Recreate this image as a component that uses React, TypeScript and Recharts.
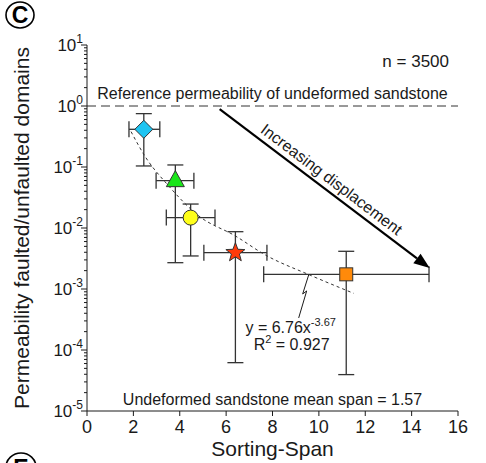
import React from 'react';
import { ComposedChart, Scatter, Line, XAxis, YAxis, ErrorBar, ReferenceLine, ReferenceDot } from 'recharts';

// sorting-span of each fault population (marker centre, left and right whisker)
const spanMid = [2.45, 3.81, 4.47, 6.4, 11.18];
const spanLow = [1.81, 2.98, 3.42, 5.04, 7.62];
const spanHigh = [3.14, 4.61, 5.52, 7.76, 14.75];

// permeability ratio faulted/unfaulted (marker centre, lower and upper whisker)
const permMid = [0.415, 0.0597, 0.0148, 0.00394, 0.00174];
const permLow = [0.104, 0.0027, 0.00348, 0.000062, 0.0000395];
const permHigh = [0.75, 0.108, 0.0247, 0.0087, 0.00415];

const markerKinds = ['diamond', 'triangle', 'circle', 'star', 'square'];
const markerColors = ['#1ec4f2', '#19e619', '#ffff1a', '#ff3a0a', '#ff8a0a'];

// dashed power-law fit
const fitSpan = [1.9, 2.5, 3.5, 4.8, 6.4, 7.7, 9.6, 11.5];
const fitPerm = [0.38, 0.15, 0.05, 0.016, 0.0074, 0.0036, 0.0017, 0.00085];

const xTicks = [0, 2, 4, 6, 8, 10, 12, 14, 16];
const decades = [-5, -4, -3, -2, -1, 0];

const yTicks: number[] = [];
decades.forEach((d) => {
  for (let k = 1; k <= 9; k++) yTicks.push(k * Math.pow(10, d));
});
yTicks.push(10);

const points = spanMid.map((x, i) => ({
  x,
  y: permMid[i],
  idx: i,
  ex: [x - spanLow[i], spanHigh[i] - x],
  ey: [permMid[i] - permLow[i], permHigh[i] - permMid[i]],
}));

const fitData = fitSpan.map((x, i) => ({ x, fit: fitPerm[i] }));

const FONT = '"Liberation Sans", Arial, sans-serif';
const INK = '#1a1a1a';

const YTick = (props: any) => {
  const { x, y, payload } = props;
  const v = payload.value;
  const e = Math.round(Math.log10(v));
  const major = Math.abs(v / Math.pow(10, e) - 1) < 1e-6;
  return (
    <g>
      <line x1={x - (major ? 6 : 3)} x2={x} y1={y} y2={y} stroke={INK} strokeWidth={1} />
      {major && (
        <text x={x - 4} y={y + 6} textAnchor="end" fontSize={17} fill={INK} fontFamily={FONT}>
          10
          <tspan fontSize={12} dy={-8}>{e}</tspan>
        </text>
      )}
    </g>
  );
};

const XTick = (props: any) => {
  const { x, y, payload } = props;
  return (
    <g>
      <line x1={x} x2={x} y1={y} y2={y + 5} stroke={INK} strokeWidth={1} />
      <text x={x} y={y + 22} textAnchor="middle" fontSize={18} fill={INK} fontFamily={FONT}>
        {payload.value}
      </text>
    </g>
  );
};

const Marker = (props: any) => {
  const { cx, cy, payload } = props;
  const kind = markerKinds[payload.idx];
  const fill = markerColors[payload.idx];
  const st = { fill, stroke: '#333', strokeWidth: 1 };
  if (kind === 'diamond') {
    return <polygon points={`${cx},${cy - 9} ${cx + 9},${cy} ${cx},${cy + 9} ${cx - 9},${cy}`} {...st} />;
  }
  if (kind === 'triangle') {
    return <polygon points={`${cx},${cy - 10} ${cx + 9},${cy + 6} ${cx - 9},${cy + 6}`} {...st} />;
  }
  if (kind === 'circle') {
    return <circle cx={cx} cy={cy} r={7.5} {...st} />;
  }
  if (kind === 'star') {
    const pts: string[] = [];
    for (let i = 0; i < 10; i++) {
      const r = i % 2 === 0 ? 10 : 4.2;
      const a = -Math.PI / 2 + (i * Math.PI) / 5;
      pts.push(`${cx + r * Math.cos(a)},${cy + r * Math.sin(a)}`);
    }
    return <polygon points={pts.join(' ')} {...st} />;
  }
  return <rect x={cx - 6.5} y={cy - 6.5} width={13} height={13} {...st} />;
};

const Arrow = (props: any) => {
  const { x1, y1, x2, y2 } = props;
  const ang = Math.atan2(y2 - y1, x2 - x1);
  const deg = (ang * 180) / Math.PI;
  const hl = 16;
  const hw = 6;
  const bx = x2 - hl * Math.cos(ang);
  const by = y2 - hl * Math.sin(ang);
  const px = -Math.sin(ang);
  const py = Math.cos(ang);
  const mx = (x1 + x2) / 2 + 6 * Math.sin(ang);
  const my = (y1 + y2) / 2 - 6 * Math.cos(ang);
  return (
    <g>
      <line x1={x1} y1={y1} x2={bx} y2={by} stroke="#000" strokeWidth={2.2} />
      <polygon
        points={`${x2},${y2} ${bx + hw * px},${by + hw * py} ${bx - hw * px},${by - hw * py}`}
        fill="#000"
      />
      <text
        x={mx}
        y={my}
        transform={`rotate(${deg},${mx},${my})`}
        textAnchor="middle"
        fontSize={16}
        fill={INK}
        fontFamily={FONT}
      >
        Increasing displacement
      </text>
    </g>
  );
};

const CountLabel = (props: any) => (
  <text x={props.cx - 9} y={props.cy + 22} textAnchor="end" fontSize={17} fill={INK} fontFamily={FONT}>
    n = 3500
  </text>
);

const SpanLabel = (props: any) => (
  <text x={props.cx} y={props.cy - 6} textAnchor="middle" fontSize={16} fill={INK} fontFamily={FONT}>
    Undeformed sandstone mean span = 1.57
  </text>
);

const FitLabel = (props: any) => {
  const { cx, cy } = props;
  const bolt = [
    [0, 0],
    [-6, 19],
    [-2, 16],
    [-10, 43],
  ]
    .map(([a, b]) => `${cx + a},${cy + b}`)
    .join(' ');
  return (
    <g fontFamily={FONT} fill={INK}>
      <polyline points={bolt} fill="none" stroke={INK} strokeWidth={1} />
      <text x={cx - 18} y={cy + 58} textAnchor="middle" fontSize={16}>
        y = 6.76x<tspan fontSize={11} dy={-7}>-3.67</tspan>
      </text>
      <text x={cx - 17} y={cy + 75} textAnchor="middle" fontSize={16}>
        R<tspan fontSize={11} dy={-7}>2</tspan>
        <tspan dy={7}> = 0.927</tspan>
      </text>
    </g>
  );
};

const App = () => {
  return (
    <div style={{ position: 'absolute', left: 0, top: 0, width: 486, height: 463, background: '#fff', overflow: 'hidden' }}>
      <ComposedChart width={486} height={463} margin={{ top: 45, right: 28, bottom: 22, left: 27 }}>
        <XAxis
          type="number"
          dataKey="x"
          domain={[0, 16]}
          ticks={xTicks}
          interval={0}
          tickSize={0}
          tickMargin={0}
          tick={<XTick />}
          height={30}
          stroke={INK}
          allowDataOverflow
          label={{
            content: (p: any) => (
              <text
                x={p.viewBox.x + p.viewBox.width / 2}
                y={p.viewBox.y + 45}
                textAnchor="middle"
                fontSize={21}
                fill={INK}
                fontFamily={FONT}
              >
                Sorting-Span
              </text>
            ),
          }}
        />
        <YAxis
          type="number"
          scale="log"
          domain={[1e-5, 10]}
          ticks={yTicks}
          interval={0}
          tickSize={0}
          tickMargin={0}
          tick={<YTick />}
          width={60}
          stroke={INK}
          allowDataOverflow
          label={{
            content: () => (
              <text
                x={29}
                y={228}
                transform="rotate(-90,29,228)"
                textAnchor="middle"
                fontSize={21}
                fill={INK}
                fontFamily={FONT}
              >
                Permeability faulted/unfaulted domains
              </text>
            ),
          }}
        />
        <ReferenceLine
          y={1}
          stroke="#333"
          strokeDasharray="9 5"
          strokeWidth={1}
          label={{
            value: 'Reference permeability of undeformed sandstone',
            position: 'top',
            offset: 7,
            fontSize: 16,
            fill: INK,
            fontFamily: FONT,
          }}
        />
        <Line
          data={fitData}
          dataKey="fit"
          type="monotone"
          stroke="#333"
          strokeWidth={1}
          strokeDasharray="3 3"
          dot={false}
          isAnimationActive={false}
        />
        <Scatter data={points} dataKey="y" shape={() => <g />} isAnimationActive={false}>
          <ErrorBar dataKey="ex" direction="x" width={8} stroke="#333" strokeWidth={1.3} />
          <ErrorBar dataKey="ey" direction="y" width={8} stroke="#333" strokeWidth={1.3} />
        </Scatter>
        <Scatter data={points} dataKey="y" shape={<Marker />} isAnimationActive={false} />
        <ReferenceLine
          segment={[
            { x: 5.72, y: 0.89 },
            { x: 14.78, y: 0.0022 },
          ]}
          shape={(p: any) => <Arrow {...p} />}
        />
        <ReferenceDot x={16} y={10} shape={(p: any) => <CountLabel {...p} />} />
        <ReferenceDot x={8} y={1e-5} shape={(p: any) => <SpanLabel {...p} />} />
        <ReferenceDot x={9.56} y={0.0017} shape={(p: any) => <FitLabel {...p} />} />
      </ComposedChart>
      <svg
        width={486}
        height={463}
        style={{ position: 'absolute', left: 0, top: 0, pointerEvents: 'none' }}
      >
        <ellipse cx={20} cy={15} rx={14} ry={13} fill="#fff" stroke="#000" strokeWidth={1.6} />
        <text x={20} y={23} textAnchor="middle" fontSize={23} fontWeight="bold" fontFamily={FONT}>
          C
        </text>
        <ellipse cx={21} cy={467} rx={15} ry={14} fill="#fff" stroke="#000" strokeWidth={1.6} />
        <text x={21} y={476} textAnchor="middle" fontSize={23} fontWeight="bold" fontFamily={FONT}>
          E
        </text>
      </svg>
    </div>
  );
};

export default App;
